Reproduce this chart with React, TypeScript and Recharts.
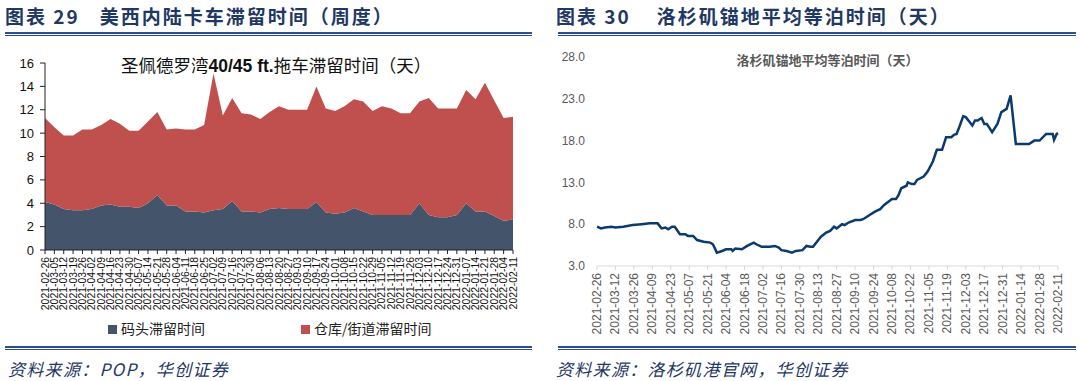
import { Area, AreaChart, Line, LineChart, XAxis, YAxis } from "recharts";

// 图表 29 — weekly dwell time at San Pedro Bay (days)
const weeks = [
  "2021-02-26", "2021-03-05", "2021-03-12", "2021-03-19", "2021-03-26",
  "2021-04-02", "2021-04-09", "2021-04-16", "2021-04-23", "2021-04-30",
  "2021-05-07", "2021-05-14", "2021-05-21", "2021-05-28", "2021-06-04",
  "2021-06-11", "2021-06-18", "2021-06-25", "2021-07-02", "2021-07-09",
  "2021-07-16", "2021-07-23", "2021-07-30", "2021-08-06", "2021-08-13",
  "2021-08-20", "2021-08-27", "2021-09-03", "2021-09-10", "2021-09-17",
  "2021-09-24", "2021-10-01", "2021-10-08", "2021-10-15", "2021-10-22",
  "2021-10-29", "2021-11-05", "2021-11-12", "2021-11-19", "2021-11-26",
  "2021-12-03", "2021-12-10", "2021-12-17", "2021-12-24", "2021-12-31",
  "2022-01-07", "2022-01-14", "2022-01-21", "2022-01-28", "2022-02-04",
  "2022-02-11",
];
const dockDays = [
  4.1, 3.9, 3.5, 3.4, 3.4, 3.5, 3.8, 3.9, 3.7, 3.7,
  3.6, 4.0, 4.7, 3.8, 3.8, 3.3, 3.3, 3.2, 3.4, 3.5,
  4.2, 3.3, 3.3, 3.2, 3.5, 3.6, 3.5, 3.5, 3.5, 4.1,
  3.2, 3.1, 3.2, 3.6, 3.3, 3.0, 3.0, 3.0, 3.0, 3.0,
  4.0, 3.0, 2.8, 2.8, 3.0, 4.0, 3.3, 3.3, 2.9, 2.5, 2.6,
];
const yardDays = [
  7.2, 6.6, 6.3, 6.4, 6.9, 6.8, 6.9, 7.3, 7.1, 6.5,
  6.6, 7.0, 7.1, 6.5, 6.6, 7.0, 7.0, 7.5, 11.7, 8.0,
  8.8, 8.4, 8.3, 8.0, 8.3, 8.7, 8.5, 8.5, 8.5, 9.9,
  8.9, 8.8, 9.1, 9.3, 9.4, 8.9, 9.3, 9.1, 8.7, 8.7,
  8.7, 10.0, 9.3, 9.3, 9.1, 9.7, 9.6, 11.0, 9.9, 8.8, 8.8,
];
const leftTicks = [0, 2, 4, 6, 8, 10, 12, 14, 16];

// 图表 30 — LA anchorage average wait (days)
const anchorDates = [
  "2021-02-26", "2021-03-01", "2021-03-04", "2021-03-09", "2021-03-12",
  "2021-03-18", "2021-03-25", "2021-04-01", "2021-04-07", "2021-04-13",
  "2021-04-16", "2021-04-19", "2021-04-21", "2021-04-24", "2021-04-26",
  "2021-04-30", "2021-05-04", "2021-05-06", "2021-05-10", "2021-05-13",
  "2021-05-18", "2021-05-23", "2021-05-25", "2021-05-28", "2021-06-01",
  "2021-06-04", "2021-06-08", "2021-06-09", "2021-06-11", "2021-06-16",
  "2021-06-20", "2021-06-25", "2021-06-27", "2021-07-01", "2021-07-07",
  "2021-07-11", "2021-07-14", "2021-07-16", "2021-07-20", "2021-07-24",
  "2021-07-27", "2021-08-01", "2021-08-04", "2021-08-07", "2021-08-09",
  "2021-08-12", "2021-08-15", "2021-08-19", "2021-08-22", "2021-08-25",
  "2021-08-27", "2021-08-31", "2021-09-02", "2021-09-05", "2021-09-10",
  "2021-09-14", "2021-09-16", "2021-09-21", "2021-09-25", "2021-09-29",
  "2021-10-02", "2021-10-08", "2021-10-11", "2021-10-13", "2021-10-15",
  "2021-10-19", "2021-10-20", "2021-10-23", "2021-10-25", "2021-10-27",
  "2021-11-01", "2021-11-04", "2021-11-08", "2021-11-11", "2021-11-15",
  "2021-11-18", "2021-11-22", "2021-11-24", "2021-11-26", "2021-11-28",
  "2021-12-01", "2021-12-03", "2021-12-08", "2021-12-10", "2021-12-12",
  "2021-12-15", "2021-12-17", "2021-12-19", "2021-12-23", "2021-12-27",
  "2021-12-30", "2022-01-03", "2022-01-06", "2022-01-10", "2022-01-15",
  "2022-01-20", "2022-01-24", "2022-01-28", "2022-02-02", "2022-02-07",
  "2022-02-08", "2022-02-10", "2022-02-11",
];
const anchorWait = [
  7.7, 7.5, 7.6, 7.7, 7.6, 7.7, 7.9, 8.0, 8.1, 8.1,
  7.5, 7.6, 7.4, 7.7, 7.7, 6.8, 6.8, 6.6, 6.6, 6.1,
  5.9, 5.8, 5.6, 4.6, 4.8, 5.0, 5.0, 4.8, 5.1, 5.0,
  5.4, 5.8, 5.6, 5.3, 5.3, 5.4, 5.2, 4.9, 4.8, 4.6,
  4.8, 4.9, 5.4, 5.3, 5.3, 5.9, 6.5, 7.0, 7.2, 7.7,
  7.5, 8.0, 7.9, 8.2, 8.5, 8.5, 8.6, 9.1, 9.5, 9.8,
  10.3, 11.0, 11.0, 11.5, 12.3, 12.6, 13.0, 12.8, 12.8, 13.3,
  13.7, 14.3, 15.5, 16.9, 16.9, 18.4, 18.4, 18.7, 18.8, 19.6,
  20.9, 20.8, 19.8, 20.4, 20.4, 20.7, 20.0, 20.0, 19.0, 20.0,
  21.4, 21.8, 23.4, 17.6, 17.6, 17.6, 18.0, 18.0, 18.8, 18.8,
  18.1, 18.8, 18.9,
];
const rightDateTicks = [
  "2021-02-26", "2021-03-12", "2021-03-26", "2021-04-09", "2021-04-23",
  "2021-05-07", "2021-05-21", "2021-06-04", "2021-06-18", "2021-07-02",
  "2021-07-16", "2021-07-30", "2021-08-13", "2021-08-27", "2021-09-10",
  "2021-09-24", "2021-10-08", "2021-10-22", "2021-11-05", "2021-11-19",
  "2021-12-03", "2021-12-17", "2021-12-31", "2022-01-14", "2022-01-28",
  "2022-02-11",
];
const rightTicks = [3, 8, 13, 18, 23, 28];

const leftData = weeks.map((week, i) => ({ week, dock: dockDays[i], yard: yardDays[i] }));
const rightData = anchorDates.map((d, i) => ({ t: Date.parse(d), wait: anchorWait[i] }));
const rightTickTs = rightDateTicks.map((d) => Date.parse(d));

const NAVY = "#1f3864";
const LINE_BLUE = "#2a4f8f";
const SANS = '"Liberation Sans", "Noto Sans CJK SC", sans-serif';
const CJK = '"Noto Sans CJK SC", "Liberation Sans", sans-serif';

function VerticalTick(props: any) {
  const { x, y, payload, fontSize, fill, label } = props;
  const text = label ? label(payload.value) : payload.value;
  return (
    <text
      x={x}
      y={y}
      transform={`rotate(-90 ${x} ${y})`}
      textAnchor="end"
      dominantBaseline="central"
      fontSize={fontSize}
      fill={fill}
      fontFamily={SANS}
    >
      {text}
    </text>
  );
}

const fmtDate = (v: number) => new Date(v).toISOString().slice(0, 10);

function Rule({ left, top, width }: { left: number; top: number; width: number }) {
  return (
    <>
      <div style={{ position: "absolute", left, top, width, height: 2, background: LINE_BLUE }} />
      <div style={{ position: "absolute", left, top: top + 3, width, height: 1, background: LINE_BLUE }} />
    </>
  );
}

function Heading({ left, num, title, gap }: { left: number; num: string; title: string; gap: number }) {
  return (
    <div style={{ position: "absolute", left, top: 2, fontFamily: CJK, fontWeight: 700, fontSize: 19, letterSpacing: 2, color: NAVY, whiteSpace: "nowrap" }}>
      <span>图表 {num}</span>
      <span style={{ marginLeft: gap }}>{title}</span>
    </div>
  );
}

function Source({ left, text }: { left: number; text: string }) {
  return (
    <div style={{ position: "absolute", left, top: 356, fontFamily: CJK, fontStyle: "italic", fontSize: 17, letterSpacing: 1.3, color: NAVY, whiteSpace: "nowrap" }}>
      {text}
    </div>
  );
}

export default function App() {
  return (
    <div style={{ position: "absolute", left: 0, top: 0, width: 1080, height: 381, background: "#fff", overflow: "hidden" }}>
      <Heading left={5} num="29" title="美西内陆卡车滞留时间（周度）" gap={20} />
      <Heading left={556} num="30" title="洛杉矶锚地平均等泊时间（天）" gap={26} />
      <Rule left={5} top={32} width={527} />
      <Rule left={558} top={32} width={518} />

      {/* left: stacked area */}
      <div style={{ position: "absolute", left: 0, top: 40 }}>
        <AreaChart width={530} height={300} data={leftData} margin={{ top: 23, right: 17, left: 0, bottom: 0 }}>
          <YAxis
            domain={[0, 16]}
            ticks={leftTicks}
            interval={0}
            width={45}
            tickSize={5}
            tickMargin={6}
            axisLine={{ stroke: "#222" }}
            tickLine={{ stroke: "#222" }}
            tick={{ fontSize: 13, fill: "#111", fontFamily: SANS }}
          />
          <XAxis
            dataKey="week"
            interval={0}
            height={90}
            tickSize={4}
            tickMargin={3}
            axisLine={{ stroke: "#222" }}
            tickLine={{ stroke: "#222" }}
            tick={<VerticalTick fontSize={10.4} fill="#111" />}
          />
          <Area type="linear" dataKey="dock" stackId="a" stroke="none" fill="#44546a" fillOpacity={1} dot={false} activeDot={false} isAnimationActive={false} />
          <Area type="linear" dataKey="yard" stackId="a" stroke="none" fill="#c0504d" fillOpacity={1} dot={false} activeDot={false} isAnimationActive={false} />
        </AreaChart>
      </div>
      <div style={{ position: "absolute", left: 121, top: 52, fontFamily: CJK, fontSize: 17.5, color: "#111", whiteSpace: "nowrap" }}>
        圣佩德罗湾<span style={{ fontFamily: SANS, fontWeight: 700 }}>40/45 ft.</span>拖车滞留时间（天）
      </div>
      <div style={{ position: "absolute", left: 108, top: 318, fontFamily: CJK, fontSize: 14, color: "#222", whiteSpace: "nowrap" }}>
        <span style={{ display: "inline-block", width: 9, height: 9, background: "#44546a", marginRight: 4 }} />码头滞留时间
        <span style={{ display: "inline-block", width: 9, height: 9, background: "#c0504d", marginLeft: 96, marginRight: 4 }} />仓库/街道滞留时间
      </div>

      {/* right: line */}
      <div style={{ position: "absolute", left: 540, top: 40 }}>
        <LineChart width={540} height={300} data={rightData} margin={{ top: 17, right: 22, left: 0, bottom: 0 }}>
          <YAxis
            domain={[3, 28]}
            ticks={rightTicks}
            interval={0}
            width={57}
            axisLine={false}
            tickLine={false}
            tickMargin={6}
            tickFormatter={(v: number) => v.toFixed(1)}
            tick={{ fontSize: 12, fill: "#595959", fontFamily: SANS }}
          />
          <XAxis
            dataKey="t"
            type="number"
            domain={[rightTickTs[0], rightTickTs[rightTickTs.length - 1]]}
            ticks={rightTickTs}
            interval={0}
            height={74}
            tickSize={4}
            tickMargin={3}
            axisLine={{ stroke: "#d9d9d9" }}
            tickLine={{ stroke: "#d9d9d9" }}
            tick={<VerticalTick fontSize={12} fill="#595959" label={fmtDate} />}
          />
          <Line type="linear" dataKey="wait" stroke="#0b3a6e" strokeWidth={2.5} dot={false} activeDot={false} isAnimationActive={false} />
        </LineChart>
      </div>
      <div style={{ position: "absolute", left: 540 + 57, width: 461, top: 50, textAlign: "center", fontFamily: CJK, fontWeight: 700, fontSize: 13, color: "#595959" }}>
        洛杉矶锚地平均等泊时间（天）
      </div>

      <Rule left={5} top={346} width={527} />
      <Rule left={558} top={346} width={518} />
      <Source left={8} text="资料来源：POP，华创证券" />
      <Source left={556} text="资料来源：洛杉矶港官网，华创证券" />
    </div>
  );
}
